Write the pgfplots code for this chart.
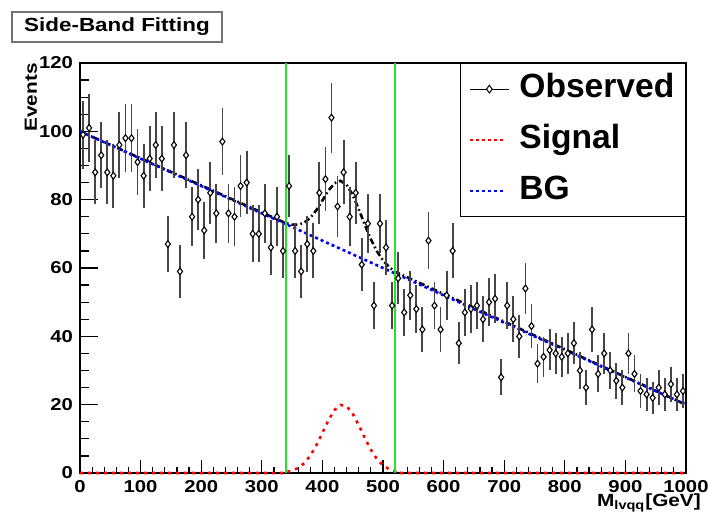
\documentclass[border=0pt]{standalone}
\usepackage{fontspec}
\setmainfont{Liberation Sans}
\newfontfamily\rootfont{Liberation Sans}[FakeStretch=1.18]
\usepackage{pgfplots}
\pgfplotsset{compat=1.18}
\usepackage{pgfplotstable}

\definecolor{winline}{RGB}{40,225,40}
\definecolor{errgray}{RGB}{70,70,70}

% observed events per 10 GeV bin: centre, count, Poisson error
\pgfplotstableread{
x y e
5 99 9.95
15 101 10.05
25 88 9.38
35 93 9.64
45 88 9.38
55 87 9.33
65 96 9.80
75 98 9.90
85 98 9.90
95 91 9.54
105 87 9.33
115 92 9.59
125 96 9.80
135 92 9.59
145 67 8.19
155 96 9.80
165 59 7.68
175 93 9.64
185 75 8.66
195 80 8.94
205 71 8.43
215 82 9.06
225 76 8.72
235 97 9.85
245 76 8.72
255 75 8.66
265 84 9.17
275 85 9.22
285 70 8.37
295 70 8.37
305 76 8.72
315 66 8.12
325 75 8.66
335 65 8.06
345 84 9.17
355 65 8.06
365 59 7.68
375 67 8.19
385 65 8.06
395 82 9.06
405 86 9.27
415 104 10.20
425 78 8.83
435 88 9.38
445 75 8.66
455 82 9.06
465 61 7.81
475 73 8.54
485 49 7.00
495 73 8.54
505 66 8.12
515 49 7.00
525 57 7.55
535 47 6.86
545 52 7.21
555 48 6.93
565 42 6.48
575 68 8.25
585 49 7.00
595 42 6.48
605 52 7.21
615 65 8.06
625 38 6.16
635 47 6.86
645 48 6.93
655 49 7.00
665 45 6.71
675 50 7.07
685 51 7.14
695 28 5.29
705 49 7.00
715 45 6.71
725 40 6.32
735 54 7.35
745 43 6.56
755 32 5.66
765 34 5.83
775 36 6.00
785 35 5.92
795 34 5.83
805 35 5.92
815 38 6.16
825 30 5.48
835 25 5.00
845 42 6.48
855 29 5.39
865 35 5.92
875 30 5.48
885 27 5.20
895 25 5.00
905 35 5.92
915 29 5.39
925 24 4.90
935 23 4.80
945 22 4.69
955 25 5.00
965 23 4.80
975 26 5.10
985 23 4.80
995 24 4.90
}\obsdata

\begin{document}
\begin{tikzpicture}
\begin{axis}[
  scale only axis, width=303pt, height=205pt,
  xmin=0, xmax=1000, ymin=0, ymax=120,
  clip=false,
  xtick={0,100,...,1000}, ytick={0,20,...,120},
  minor x tick num=4, minor y tick num=3,
  tick align=inside, xtick pos=bottom, ytick pos=left,
  xtick style={/pgfplots/major tick length=6.3pt, /pgfplots/minor tick length=3pt},
  ytick style={/pgfplots/major tick length=9pt, /pgfplots/minor tick length=4.5pt},
  every tick/.style={black, line width=0.6pt},
  axis line style={black, line width=0.7pt},
  /pgf/number format/assume math mode=true,
  /pgf/number format/1000 sep={},
  ticklabel style={font={\fontsize{8.6}{9}\rootfont\bfseries}},
  xlabel={M\textsubscript{lvqq}[GeV]},
  label style={font={\fontsize{8.8}{9}\rootfont\bfseries}},
  xlabel style={at={(axis description cs:1.036,-0.082)}, anchor=base east},
  legend cell align=left,
  legend style={at={(axis description cs:1,1)}, anchor=north east,
    draw=black, line width=0.6pt, fill=white,
    inner xsep=4pt, inner ysep=5pt, row sep=10pt,
    font={\fontsize{16.8}{19}\selectfont\bfseries},
    nodes={inner sep=0pt, text height=12pt, text depth=3.5pt},
    /tikz/every odd column/.append style={column sep=5pt}},
]
% legend entries
\addlegendimage{legend image code/.code={
  \draw[black, line width=0.5pt] (0pt,0pt) -- (19.5pt,0pt);
  \draw[black, line width=0.5pt, fill=white] plot[mark=diamond*, mark size=1.9pt] coordinates {(9.75pt,0pt)};}}
\addlegendentry{Observed\hspace*{1.5pt}}
\addlegendimage{legend image code/.code={
  \draw[red, line width=1.2pt, dash pattern=on 1.5pt off 1.5pt] (0pt,0pt) -- (18pt,0pt);}}
\addlegendentry{Signal}
\addlegendimage{legend image code/.code={
  \draw[blue, line width=1.2pt, dash pattern=on 1.5pt off 1.5pt] (0pt,0pt) -- (18pt,0pt);}}
\addlegendentry{BG}

% total fit: background plus signal
\addplot[forget plot, black, line width=1.3pt, dash pattern=on 3pt off 1.5pt on 0.8pt off 1.5pt]
  coordinates {(0,100) (340,73.09) (350,72.69) (360,72.68) (370,73.28) (380,74.67)
    (390,76.91) (400,79.75) (410,82.65) (420,84.82) (430,85.51) (440,84.33)
    (450,81.37) (460,77.21) (470,72.65) (480,68.40) (490,64.89) (500,62.23)
    (510,60.31) (520,58.90) (1000,20)};
% background fit
\addplot[forget plot, blue, line width=1.3pt, dash pattern=on 1.5pt off 1.5pt]
  coordinates {(0,100) (1000,20)};
% signal shape
\addplot[forget plot, red, line width=1.3pt, dash pattern=on 1.5pt off 2.5pt]
  coordinates {(0,0) (339,0) (340,0.29) (350,0.69) (360,1.48) (370,2.88) (380,5.07)
    (390,8.11) (400,11.75) (410,15.45) (420,18.42) (430,19.91) (440,19.53)
    (450,17.37) (460,14.01) (470,10.25) (480,6.80) (490,4.09) (500,2.23)
    (510,1.11) (520,0.50) (521,0) (1000,0)};
% observed data
\addplot[forget plot, only marks, mark=diamond*, mark size=1.7pt,
  mark options={draw=black, fill=white, line width=0.55pt},
  error bars/.cd, y dir=both, y explicit, error mark=none,
  error bar style={errgray, line width=0.9pt}]
  table[x=x, y=y, y error=e] {\obsdata};
% signal window
\addplot[forget plot, winline, line width=1pt] coordinates {(340,0) (340,120)};
\addplot[forget plot, winline, line width=1pt] coordinates {(520,0) (520,120)};
\end{axis}
\node[rotate=90, anchor=base east, inner sep=0pt,
  font={\fontsize{8.8}{9}\rootfont\bfseries}] at (-21.5pt,205pt) {Events};
\node[draw=black!55, line width=0.7pt, fill=white, minimum width=105pt, minimum height=15pt,
  inner sep=0pt, font={\fontsize{9.5}{11}\rootfont\bfseries}] at (18.5pt,223pt) {Side-Band Fitting};
\pgfresetboundingbox
\path[use as bounding box] (-40pt,-20.5pt) rectangle (314pt,236.5pt);
\end{tikzpicture}
\end{document}
